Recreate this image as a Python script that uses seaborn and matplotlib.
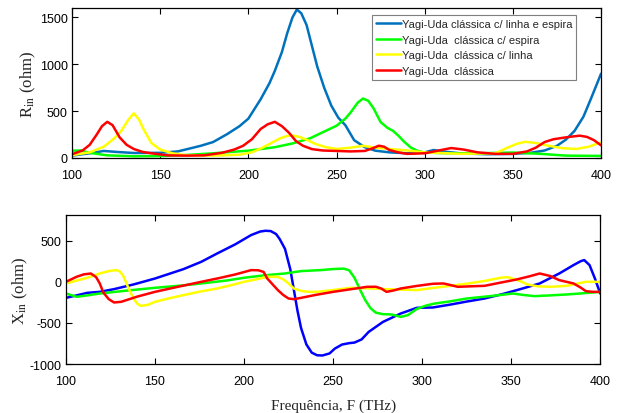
import numpy as np
import pandas as pd
import matplotlib
matplotlib.use("Agg")
import matplotlib.pyplot as plt
import seaborn as sns

# Rin (ohm) - curvas
f_blue_R = [100, 110, 118, 125, 135, 150, 160, 173, 180, 188, 195, 200, 207, 212, 215, 219, 222, 225, 227.5,
            230, 233, 236, 239, 243, 247, 251, 255, 260, 266, 272, 280, 290, 300, 305, 310, 320, 335, 350, 360,
            368, 375, 380, 385, 390, 394, 397, 400]
R_blue = [25, 50, 75, 65, 53, 55, 70, 130, 170, 255, 340, 420, 628, 800, 930, 1130, 1330, 1500, 1585,
          1545, 1420, 1200, 980, 750, 560, 430, 350, 190, 115, 78, 60, 50, 60, 85, 70, 50, 40, 44, 55,
          80, 130, 195, 290, 440, 620, 760, 900]

f_green_R = [100, 105, 110, 120, 135, 150, 165, 180, 200, 215, 225, 235, 240, 245, 250, 255, 258, 262, 265,
             268, 271, 275, 279, 282, 285, 288, 292, 296, 300, 310, 320, 335, 350, 365, 380, 400]
R_green = [78, 80, 55, 28, 18, 20, 32, 50, 78, 115, 155, 210, 255, 300, 344, 420, 486, 590, 635,
           610, 530, 383, 320, 290, 240, 180, 113, 75, 58, 52, 50, 52, 58, 45, 25, 22]

f_yellow_R = [100, 110, 118, 124, 128, 132, 135, 138, 141, 145, 150, 157, 165, 180, 195, 202, 208, 213, 218,
              222, 225, 229, 233, 238, 244, 250, 258, 265, 272, 280, 290, 300, 320, 340, 347, 352, 357, 363,
              370, 378, 386, 393, 400]
R_yellow = [30, 60, 120, 210, 290, 410, 476, 410, 290, 160, 90, 50, 28, 25, 35, 60, 110, 160, 210,
            235, 240, 225, 195, 150, 115, 96, 110, 130, 110, 96, 80, 60, 44, 50, 110, 150, 173, 160,
            131, 105, 96, 120, 167]

f_red_R = [100, 106, 110, 114, 117, 120, 123, 127, 131, 135, 140, 145, 154, 165, 175, 185, 192, 197, 202,
           207, 211, 215, 219, 223, 227, 231, 236, 242, 250, 258, 266, 270, 274, 277, 280, 285, 290, 300,
           308, 315, 322, 330, 340, 350, 358, 363, 368, 373, 380, 385, 388, 392, 396, 400]
R_red = [40, 80, 140, 250, 340, 386, 350, 220, 140, 96, 65, 50, 28, 25, 28, 55, 90, 130, 200,
         310, 360, 386, 340, 270, 180, 130, 95, 80, 75, 70, 75, 100, 131, 120, 85, 60, 44, 50,
         80, 106, 90, 60, 44, 44, 70, 110, 170, 200, 220, 232, 238, 225, 190, 135]

# Xin (ohm)
f_blue_X = [100, 106, 112, 119, 127, 138, 150, 166, 176, 185, 195, 204, 209, 212, 215, 218, 220, 223, 226,
            228, 230, 232, 235, 238, 241, 244, 248, 251, 255, 259, 262, 266, 270, 278, 288, 297, 306, 316,
            325, 335, 345, 355, 366, 377, 385, 389, 391, 394, 397, 400]
X_blue = [-195, -165, -134, -122, -89, -32, 40, 154, 243, 345, 454, 568, 610, 620, 616, 580, 520, 400, 150,
          -100, -350, -560, -760, -860, -892, -895, -870, -811, -762, -745, -738, -700, -608, -487, -385, -316, -312, -276,
          -240, -203, -150, -90, -20, 101, 203, 250, 264, 203, 41, -142]

f_green_X = [100, 106, 112, 119, 135, 150, 165, 176, 190, 200, 212, 223, 232, 243, 250, 256, 259, 262, 265,
             268, 271, 274, 278, 283, 288, 292, 297, 302, 307, 315, 325, 340, 351, 357, 363, 372, 381, 390, 400]
X_green = [-142, -182, -165, -142, -105, -73, -45, -20, 15, 49, 80, 101, 130, 142, 155, 160, 140, 50, -90,
           -220, -320, -375, -393, -397, -426, -405, -330, -290, -264, -240, -203, -170, -142, -160, -174,
           -165, -154, -140, -122]

f_yellow_X = [100, 106, 112, 119, 124, 128, 130, 132, 134, 136, 138, 140, 142, 146, 150, 158, 166, 175, 185,
              193, 200, 207, 213, 219, 222, 225, 228, 232, 236, 241, 250, 260, 270, 279, 288, 297, 306, 316,
              326, 335, 344, 348, 352, 356, 359, 365, 372, 381, 392, 400]
X_yellow = [-20, 15, 49, 101, 130, 142, 130, 80, -20, -120, -203, -265, -292, -280, -243, -200, -162, -120, -81,
            -40, 0, 30, 61, 60, 30, -20, -81, -110, -122, -122, -100, -73, -80, -89, -95, -101, -75, -49,
            -20, 10, 49, 57, 30, 0, -32, -55, -61, -49, 0, 0]

f_red_X = [100, 106, 110, 114, 117, 119, 121, 124, 127, 131, 140, 150, 163, 176, 186, 195, 204, 208, 211,
           213, 216, 219, 222, 225, 228, 232, 240, 250, 260, 269, 274, 277, 280, 284, 288, 297, 306, 312,
           316, 320, 327, 335, 344, 353, 360, 366, 372, 377, 381, 385, 389, 392, 396, 400]
X_red = [0, 61, 90, 101, 55, -20, -130, -210, -251, -243, -180, -122, -60, 0, 45, 89, 142, 140, 120,
         41, -30, -101, -160, -203, -211, -195, -160, -122, -90, -61, -60, -81, -122, -105, -81, -50, -24, -20,
         -40, -61, -55, -49, -10, 28, 65, 101, 70, 20, 0, -20, -70, -114, -122, -122]

labels = ["Yagi-Uda clássica c/ linha e espira", "Yagi-Uda  clássica c/ espira",
          "Yagi-Uda  clássica c/ linha", "Yagi-Uda  clássica"]
cores_R = ["#0072BD", "#00FF00", "#FFFF00", "#FF0000"]
cores_X = ["#0000FF", "#00FF00", "#FFFF00", "#FF0000"]

sns.set_style("ticks")
plt.rcParams['font.family'] = ['Liberation Sans', 'DejaVu Sans']
plt.rcParams['mathtext.fontset'] = 'stix'
plt.rcParams['axes.unicode_minus'] = False
plt.rcParams['xtick.direction'] = 'in'
plt.rcParams['ytick.direction'] = 'in'
plt.rcParams['xtick.top'] = True
plt.rcParams['ytick.right'] = True
plt.rcParams['lines.solid_joinstyle'] = 'round'

fig = plt.figure(figsize=(6.22, 4.14), dpi=100)
ax1 = fig.add_axes([0.1158, 0.616, 0.8505, 0.362])
ax2 = fig.add_axes([0.106, 0.118, 0.859, 0.360])

serie_R = [(f_blue_R, R_blue), (f_green_R, R_green), (f_yellow_R, R_yellow), (f_red_R, R_red)]
serie_X = [(f_blue_X, X_blue), (f_green_X, X_green), (f_yellow_X, X_yellow), (f_red_X, X_red)]

for (f, v), cor, lab in zip(serie_R, cores_R, labels):
    sns.lineplot(x=f, y=v, ax=ax1, color=cor, linewidth=1.8, label=lab)
for (f, v), cor in zip(serie_X, cores_X):
    sns.lineplot(x=f, y=v, ax=ax2, color=cor, linewidth=1.8)

serif = {'family': ['Liberation Serif', 'DejaVu Serif']}

ax1.set_xlim(100, 400)
ax1.set_ylim(0, 1600)
ax1.set_yticks([0, 500, 1000, 1500])
ax1.set_ylabel(r'R$_{\mathrm{in}}$ (ohm)', fontsize=12, fontdict=serif)
ax1.yaxis.set_label_coords(-0.064, 0.5)

ax2.set_xlim(100, 400)
ax2.set_ylim(-1000, 810)
ax2.set_yticks([-1000, -500, 0, 500])
ax2.set_ylabel(r'X$_{\mathrm{in}}$ (ohm)', fontsize=12, fontdict=serif)
ax2.yaxis.set_label_coords(-0.068, 0.5)
ax2.set_xlabel('Frequência, F (THz)', fontsize=11, fontdict=serif, labelpad=8)

for ax in (ax1, ax2):
    ax.set_xticks([100, 150, 200, 250, 300, 350, 400])
    ax.tick_params(labelsize=9, length=4, width=0.8, colors='black', pad=3)
    ax.tick_params(axis='x', pad=8)
    for s in ax.spines.values():
        s.set_linewidth(0.9)
        s.set_color('black')

leg = ax1.legend(loc='upper right', bbox_to_anchor=(0.953, 0.953), borderaxespad=0, fontsize=8,
                 handlelength=2.2, handletextpad=0.1, borderpad=0.35, labelspacing=0.5,
                 fancybox=False, framealpha=1, edgecolor='#7f7f7f')
leg.get_frame().set_linewidth(0.8)

plt.savefig('out.png', dpi=100)
